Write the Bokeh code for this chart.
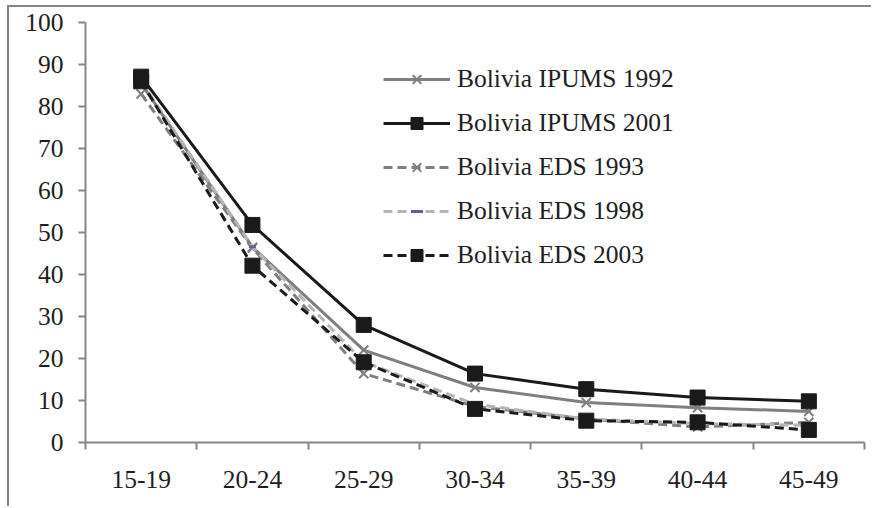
from bokeh.plotting import figure
from bokeh.models import FixedTicker, Legend, LegendItem, LinearAxis
from bokeh.embed import file_html
from bokeh.resources import INLINE

categories = ["15-19", "20-24", "25-29", "30-34", "35-39", "40-44", "45-49"]
ipums_1992 = [85.5, 46.5, 22.0, 13.1, 9.5, 8.3, 7.4]
ipums_2001 = [87.1, 51.8, 28.0, 16.4, 12.7, 10.7, 9.8]
eds_1993 = [83.0, 46.3, 16.4, 8.6, 5.6, 3.7, 4.8]
eds_1998 = [86.0, 46.6, 19.2, 9.1, 5.6, 4.5, 4.1]
eds_2003 = [86.0, 42.1, 19.1, 8.0, 5.2, 4.8, 3.0]
y_ticks = [0, 10, 20, 30, 40, 50, 60, 70, 80, 90, 100]

FONT = "'Liberation Serif', 'Times New Roman', serif"
FSIZE = "25.5px"
AXIS_GRAY = "#868686"
TEXT = "#1e1e1e"

xs = [i + 0.5 for i in range(len(categories))]

p = figure(width=864, height=501, output_backend="svg", toolbar_location=None,
           x_range=(0, len(categories)), y_range=(0, 100),
           x_axis_type=None, y_axis_type=None)
p.styles = {"border-left": "2px solid #868686", "border-top": "2px solid #868686",
            "margin-left": "7px", "margin-top": "5px"}
p.min_border = 0
p.min_border_left = 76
p.min_border_right = 9
p.min_border_top = 15
p.min_border_bottom = 66
p.outline_line_color = None
p.xgrid.visible = False
p.ygrid.visible = False
p.background_fill_color = "white"
p.border_fill_color = "white"

xaxis = LinearAxis(ticker=FixedTicker(ticks=xs, minor_ticks=list(range(len(categories) + 1))))
xaxis.major_label_overrides = {x: c for x, c in zip(xs, categories)}
xaxis.major_tick_out = 0
xaxis.major_tick_in = 0
xaxis.minor_tick_out = 7
xaxis.minor_tick_in = 0
xaxis.minor_tick_line_color = AXIS_GRAY
xaxis.minor_tick_line_width = 2
xaxis.axis_line_color = AXIS_GRAY
xaxis.axis_line_width = 2
xaxis.major_label_text_font = FONT
xaxis.major_label_text_font_size = FSIZE
xaxis.major_label_text_color = TEXT
xaxis.major_label_standoff = 21
p.add_layout(xaxis, "below")

yaxis = LinearAxis(ticker=FixedTicker(ticks=y_ticks, minor_ticks=[]))
yaxis.major_tick_out = 7
yaxis.major_tick_in = 0
yaxis.major_tick_line_color = AXIS_GRAY
yaxis.major_tick_line_width = 2
yaxis.axis_line_color = AXIS_GRAY
yaxis.axis_line_width = 2
yaxis.major_label_text_font = FONT
yaxis.major_label_text_font_size = FSIZE
yaxis.major_label_text_color = TEXT
yaxis.major_label_standoff = 15
p.add_layout(yaxis, "left")

series = [
    ("Bolivia IPUMS 1992", ipums_1992, "#7f7f7f", "solid", "x"),
    ("Bolivia IPUMS 2001", ipums_2001, "#1a1a1a", "solid", "square"),
    ("Bolivia EDS 1993", eds_1993, "#7f7f7f", "9 5", "x"),
    ("Bolivia EDS 1998", eds_1998, "#b5b5b5", "9 5", "dash"),
    ("Bolivia EDS 2003", eds_2003, "#1a1a1a", "9 5", "square"),
]

items = []
for name, ys, color, dash, marker in series:
    r1 = p.line(xs, ys, line_color=color, line_width=3, line_dash=dash)
    if marker == "square":
        r2 = p.scatter(xs, ys, marker="square", size=15, fill_color=color, line_color=color)
    elif marker == "x":
        r2 = p.scatter(xs, ys, marker="x", size=13, line_color=color, line_width=2)
    else:
        r2 = p.scatter(xs, ys, marker="dash", size=7, line_color="#6b5b9a", line_width=3)
    items.append(LegendItem(label=name, renderers=[r1, r2]))

legend = Legend(items=items, location=(298, 172))
legend.glyph_width = 67
legend.glyph_height = 30
legend.label_height = 30
legend.spacing = 14
legend.label_standoff = 7
legend.padding = 0
legend.margin = 0
legend.border_line_color = None
legend.background_fill_alpha = 0
legend.label_text_font = FONT
legend.label_text_font_size = FSIZE
legend.label_text_color = TEXT
p.add_layout(legend, "center")

open("out.html", "w").write(file_html(p, INLINE))
